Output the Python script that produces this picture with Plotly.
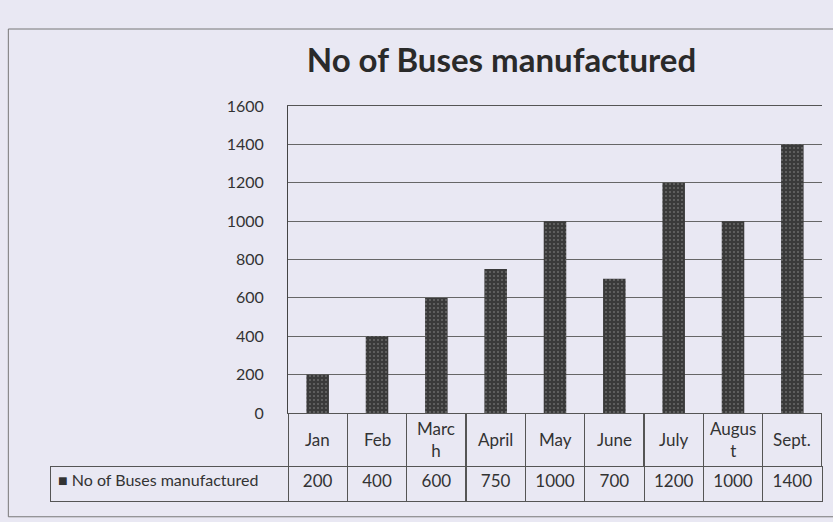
import plotly.graph_objects as go

months = ["Jan", "Feb", "March", "April", "May", "June", "July", "August", "Sept."]
month_labels = ["Jan", "Feb", "Marc<br>h", "April", "May", "June", "July", "Augus<br>t", "Sept."]
buses = [200, 400, 600, 750, 1000, 700, 1200, 1000, 1400]
series_name = "No of Buses manufactured"
y_ticks = [0, 200, 400, 600, 800, 1000, 1200, 1400, 1600]

W, H = 833, 522
bg = "#e9e8f3"
ink = "#333333"
line_c = "#555555"
font_family = "Lato, 'Open Sans', sans-serif"

plot_x0, plot_x1 = 288 / W, 822 / W
plot_ytop, plot_ybot = 106, 413
row1_bot, row2_bot = 466, 501
leg_x0 = 50 / W

fig = go.Figure()

fig.add_trace(go.Bar(
    x=months, y=buses, name=series_name,
    marker=dict(color="#4a4a4a", line=dict(width=0),
                pattern=dict(shape=".", fgcolor="#9a9a9a", bgcolor="#3a3a3a", size=4, solidity=0.2)),
    showlegend=False,
))

# Data table: month row (borders); labels added as annotations to centre them vertically
fig.add_trace(go.Table(
    domain=dict(x=[plot_x0, plot_x1], y=[1 - row1_bot / H - 0.01, 1 - plot_ybot / H]),
    columnwidth=[1] * len(months),
    header=dict(values=[""] * len(months), height=row1_bot - plot_ybot,
                fill_color=bg, line=dict(color=line_c, width=1),
                font=dict(family=font_family, size=17, color=ink), align="center"),
    cells=dict(values=[[] for _ in months], fill_color=bg, line=dict(color=line_c, width=1)),
))

# Data table: value row with legend key
leg_w = 288 - 50
col_w = (822 - 288) / len(months)
fig.add_trace(go.Table(
    domain=dict(x=[leg_x0, plot_x1], y=[1 - row2_bot / H - 0.02, 1 - row1_bot / H]),
    columnwidth=[leg_w] + [col_w] * len(months),
    header=dict(values=["■ " + series_name] + [str(v) for v in buses],
                height=row2_bot - row1_bot,
                fill_color=bg, line=dict(color=line_c, width=1),
                font=dict(family=font_family, size=[16] + [17] * len(months), color=ink),
                align=["left"] + ["center"] * len(months)),
    cells=dict(values=[[] for _ in range(len(months) + 1)], fill_color=bg,
               line=dict(color=line_c, width=1)),
))

annotations = [
    dict(x=m, y=1 - (plot_ybot + row1_bot) / 2 / H, xref="x", yref="paper", text=lab,
         showarrow=False, xanchor="center", yanchor="middle",
         font=dict(family=font_family, size=17, color=ink))
    for m, lab in zip(months, month_labels)
]

fig.update_layout(
    width=W, height=H,
    margin=dict(l=0, r=0, t=0, b=0, pad=0),
    paper_bgcolor=bg, plot_bgcolor=bg,
    title=dict(text=series_name, x=0.602, xanchor="center", y=1 - 60 / H, yanchor="middle",
               font=dict(family=font_family, size=33, color="#2a2a2a", weight="bold")),
    bargap=0.62,
    xaxis=dict(domain=[plot_x0, plot_x1], showticklabels=False, showgrid=False,
               showline=True, mirror=True, linecolor="#555", linewidth=1,
               zeroline=False, ticks="", automargin=False),
    yaxis=dict(domain=[1 - plot_ybot / H, 1 - plot_ytop / H], range=[0, 1600],
               tickvals=y_ticks, ticks="", showgrid=True, gridcolor="#666", gridwidth=1,
               showline=True, linecolor="#444", linewidth=1, zeroline=False, automargin=False,
               tickfont=dict(family=font_family, size=16, color=ink), ticklabelstandoff=20),
    annotations=annotations,
    shapes=[dict(type="rect", xref="paper", yref="paper", x0=0.01, x1=1.2, y0=0.01, y1=1 - 29 / H,
                 line=dict(color="#777", width=1), fillcolor="rgba(0,0,0,0)", layer="below")],
)

fig.write_html("out.html", config={"displayModeBar": False},
               post_script="document.body.style.margin='0';document.body.style.background='#e9e8f3';")
